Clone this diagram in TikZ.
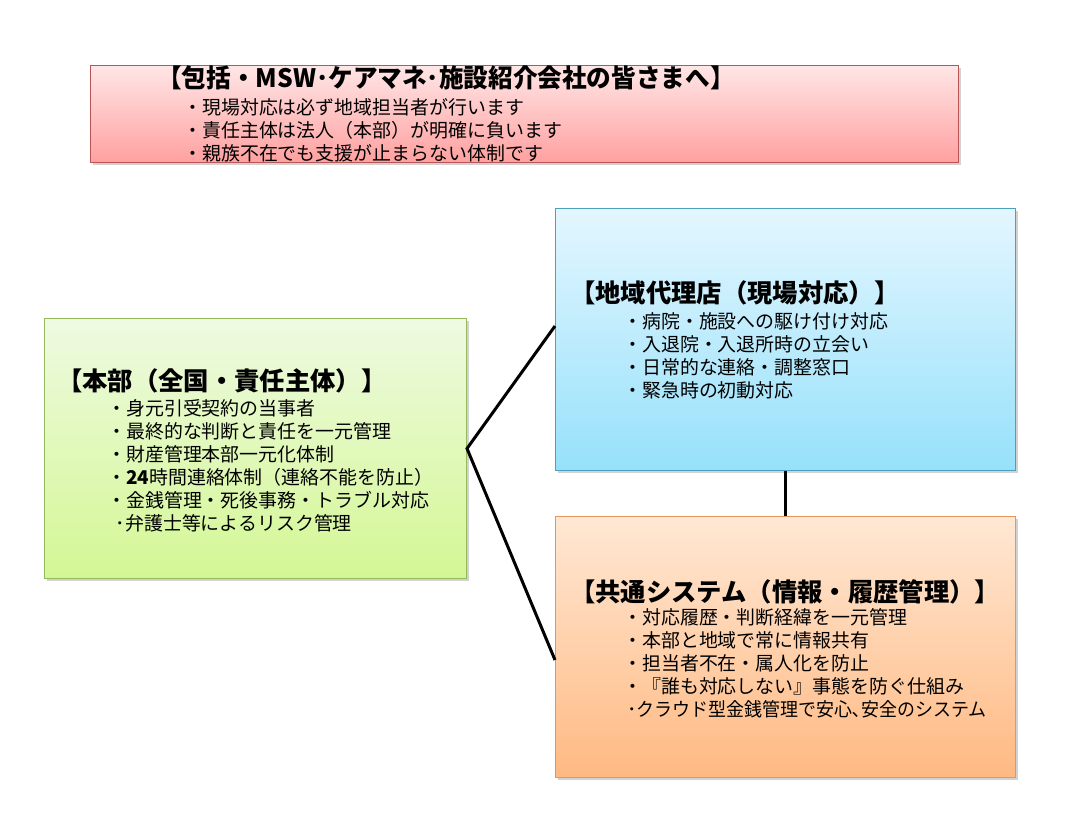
\documentclass[tikz,border=0pt]{standalone}
\usepackage{fontspec}
\usepackage{graphicx}
\setmainfont{Noto Sans CJK JP}
\usetikzlibrary{shadows}
\definecolor{pinkT}{RGB}{255,230,230}
\definecolor{pinkD}{RGB}{255,160,160}
\definecolor{pinkB}{RGB}{185,85,85}
\definecolor{greenT}{RGB}{238,250,225}
\definecolor{greenD}{RGB}{212,247,148}
\definecolor{greenB}{RGB}{150,185,95}
\definecolor{blueT}{RGB}{228,246,255}
\definecolor{blueD}{RGB}{150,225,250}
\definecolor{blueB}{RGB}{75,160,190}
\definecolor{orangeT}{RGB}{255,232,212}
\definecolor{orangeD}{RGB}{255,185,130}
\definecolor{orangeB}{RGB}{230,150,90}
\begin{document}
\begin{tikzpicture}[x=0.75pt,y=-0.75pt,
  panel/.style={draw, line width=0.75pt, rectangle, inner sep=0pt, anchor=north west,
    drop shadow={shadow xshift=1.5pt,shadow yshift=-1.5pt,opacity=0.25,fill=black!70}},
  ttl/.style={anchor=west, inner sep=0pt, font=\fontsize{19}{22}\selectfont\bfseries},
  body/.style={anchor=west, inner sep=0pt, align=left, font=\fontsize{14.2}{17.2}\selectfont},
  link/.style={line width=2.25pt, black}]
\useasboundingbox[fill=white] (0,0) rectangle (1067,818);
% panels
\node[panel, draw=pinkB, top color=pinkT, bottom color=pinkD,
  minimum width=651pt, minimum height=72.75pt] (msg) at (90,65) {};
\node[panel, draw=greenB, top color=greenT, bottom color=greenD,
  minimum width=316.5pt, minimum height=195pt] (hq) at (44,318) {};
\node[panel, draw=blueB, top color=blueT, bottom color=blueD,
  minimum width=345pt, minimum height=196.5pt] (agent) at (555,208) {};
\node[panel, draw=orangeB, top color=orangeT, bottom color=orangeD,
  minimum width=345pt, minimum height=195.75pt] (sys) at (555,516) {};
% connectors
\coordinate (toAgent) at (555,326);
\coordinate (toSys) at (555,660);
\draw[link] (toAgent) -- (hq.east) -- (toSys);
\draw[link] (agent.south) -- (sys.north);
% texts
\node[ttl] (msgT) at (157,78) {\scalebox{0.972}[1]{【包括・MSW･ケアマネ･施設紹介会社の皆さまへ】}};
\node[body, font=\fontsize{14.2}{17.4}\selectfont] (msgB) at (183,130)
  {・現場対応は必ず地域担当者が行います\\・責任主体は法人（本部）が明確に負います\\・親族不在でも支援が止まらない体制です};
\node[ttl] (hqT) at (57,381) {【本部（全国・責任主体）】};
\node[body] (hqB) at (107,466)
  {・身元引受契約の当事者\\・最終的な判断と責任を一元管理\\・財産管理本部一元化体制\\・\textbf{24}時間連絡体制（連絡不能を防止）\\・金銭管理・死後事務・トラブル対応\\\hspace{0.45em}･弁護士等によるリスク管理};
\node[ttl] (agentT) at (570,293) {【地域代理店（現場対応）】};
\node[body] (agentB) at (623,355.5)
  {・病院・施設への駆け付け対応\\・入退院・入退所時の立会い\\・日常的な連絡・調整窓口\\・緊急時の初動対応};
\node[ttl] (sysT) at (570,592) {【共通システム（情報・履歴管理）】};
\node[body] (sysB) at (623,663)
  {・対応履歴・判断経緯を一元管理\\・本部と地域で常に情報共有\\・担当者不在・属人化を防止\\・『誰も対応しない』事態を防ぐ仕組み\\\hspace{0.2em}･\scalebox{0.95}[1]{クラウド型金銭管理で安心､安全のシステム}};
\end{tikzpicture}
\end{document}
